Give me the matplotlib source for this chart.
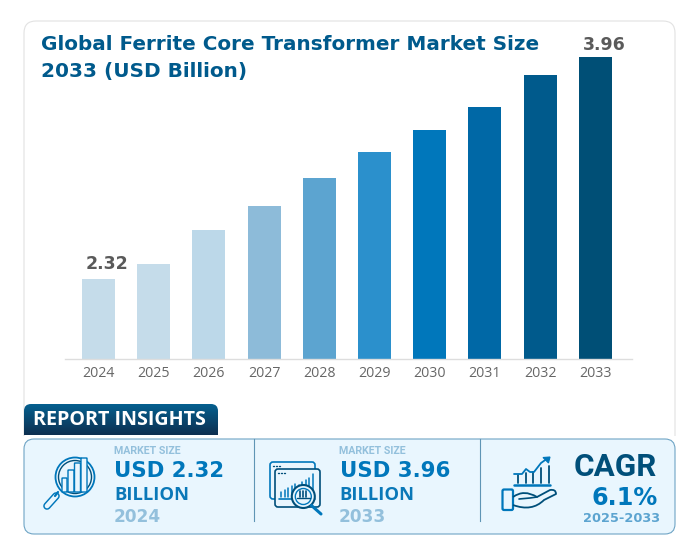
#!/usr/bin/env python3
"""Ferrite core transformer market size chart with report insights panel"""

import numpy as np
import matplotlib
matplotlib.use('Agg')
import matplotlib.pyplot as plt
from matplotlib.patches import FancyBboxPatch, Circle, Rectangle, PathPatch, Polygon
from matplotlib.path import Path

years = ['2024', '2025', '2026', '2027', '2028', '2029', '2030', '2031', '2032', '2033']
values = [2.32, 2.43, 2.68, 2.86, 3.07, 3.26, 3.42, 3.59, 3.83, 3.96]
bar_colors = ['#c5dcea', '#c5dcea', '#bcd8e9', '#8dbbd9', '#5ca4d0',
              '#2b90cc', '#0077bb', '#0068a6', '#005a8c', '#004f76']
labelled = {'2024': '2.32', '2033': '3.96'}

W, H = 697, 556
DARK = '#004f7a'
BLUE = '#0077bb'
LIGHT = '#93c0dc'
MID = '#5ca4d0'
PANEL = '#e9f6fe'

fig = plt.figure(figsize=(W / 100, H / 100), dpi=100, facecolor='white')

# overlay in pixel coordinates for the card and the panel
bg = fig.add_axes([0, 0, 1, 1], zorder=0)
bg.set_xlim(0, W)
bg.set_ylim(H, 0)
bg.axis('off')

# white card, bottom hidden behind the panel
bg.add_patch(FancyBboxPatch((24, 21), 651, 480, boxstyle='round,pad=0,rounding_size=12',
                            fc='white', ec='#e2e2e2', lw=0.8))
bg.add_patch(Rectangle((20, 436), 660, 120, fc='white', ec='none', zorder=1))

# tab with gradient
grad = np.linspace(0, 1, 64).reshape(-1, 1)
cmap = matplotlib.colors.LinearSegmentedColormap.from_list('tab', ['#05608f', '#0d2f50'])
im = bg.imshow(grad, extent=(24, 218, 435, 404), cmap=cmap, aspect='auto', zorder=2)
tab = FancyBboxPatch((24, 404), 194, 45, boxstyle='round,pad=0,rounding_size=7',
                     fc='none', ec='none', transform=bg.transData, zorder=2)
bg.add_patch(tab)
im.set_clip_path(tab)
bg.set_xlim(0, W)
bg.set_ylim(H, 0)
bg.text(33, 420, 'REPORT INSIGHTS', family='Open Sans', weight='bold', fontsize=14.25,
        color='white', va='center', ha='left', zorder=3)

# panel
bg.add_patch(FancyBboxPatch((24, 439), 651, 95, boxstyle='round,pad=0,rounding_size=10',
                            fc=PANEL, ec='#6fa5c5', lw=0.8, zorder=2))
for x in [253.5, 479.5]:
    bg.plot([x, x], [439, 521], color='#5f95b5', lw=0.8, zorder=3)


def txt(x, y, s, color, size, family='DejaVu Sans', ha='left'):
    bg.text(x, y, s, color=color, fontsize=size, family=family, weight='bold',
            ha=ha, va='center', zorder=4)


for x0, size_txt, yr in [(114, 'USD 2.32', '2024'), (339, 'USD 3.96', '2033')]:
    txt(x0, 451.5, 'MARKET SIZE', LIGHT, 7.7, family='Roboto')
    txt(x0 + 0.5, 471, size_txt, BLUE, 15.3)
    txt(x0, 495, 'BILLION', '#0a78b8', 13.2, family='Open Sans')
    txt(x0, 516.5, yr, LIGHT, 12.2)

txt(615, 467, 'CAGR', DARK, 22.6, family=['Liberation Sans Narrow', 'Roboto'], ha='center')
txt(657.5, 498, '6.1%', BLUE, 17.2, ha='right')
txt(660, 518.5, '2025-2033', MID, 9.3, ha='right')


def ln(xs, ys, color=BLUE, lw=1.2, z=4):
    bg.plot(xs, ys, color=color, lw=lw, zorder=z, solid_capstyle='round', solid_joinstyle='round')


def rrect(x, y, w, h, r, color=BLUE, lw=1.2, fc='none', z=4):
    bg.add_patch(FancyBboxPatch((x, y), w, h, boxstyle=f'round,pad=0,rounding_size={r}',
                                fc=fc, ec=color, lw=lw, zorder=z))


# icon 1: magnifier with bars
bg.add_patch(Circle((75, 477), 19.5, fc='none', ec=BLUE, lw=1.3, zorder=4))
bg.add_patch(Circle((75, 477), 16.5, fc='none', ec=DARK, lw=1.0, zorder=4))
for bx, by, bw in [(62, 478, 5), (68, 470, 6), (74.5, 463, 6), (81, 458, 6)]:
    rrect(bx, by, bw, 492 - by, 0.5, color=BLUE, lw=1.0, fc=PANEL, z=5)
ln([47, 56], [506, 496], color=BLUE, lw=5.5, z=5)
ln([47, 56], [506, 496], color=PANEL, lw=3.4, z=6)
ln([58, 55], [492, 496], color=BLUE, lw=1.6, z=6)

# icon 2: windows, bars and magnifier
rrect(270, 462, 45, 37, 3, color=BLUE)
rrect(275, 469, 45, 38, 3, color=DARK, fc=PANEL, z=4.5)
for dx in [273, 276, 279]:
    ln([dx, dx + 0.5], [465.5, 465.5], color=DARK, lw=1.0)
for dx in [278, 281, 284]:
    ln([dx, dx + 0.5], [472.5, 472.5], color=DARK, lw=1.0, z=5)
for bx, by in zip([281, 284.5, 288, 291.5, 295, 298.5, 302, 305.5, 309, 312.5],
                  [492, 490, 488, 486, 484, 485, 482, 480, 478, 474]):
    ln([bx, bx], [by, 497], color=BLUE, lw=1.1, z=5)
ln([279, 315], [499, 499], color=BLUE, lw=1.2, z=5)
bg.add_patch(Circle((303.3, 496.5), 11.5, fc=PANEL, ec=DARK, lw=1.5, zorder=6))
bg.add_patch(Circle((303.3, 496.5), 8, fc='none', ec=BLUE, lw=1.0, zorder=6))
for bx in [300, 303, 306]:
    ln([bx, bx], [491, 497], color=DARK, lw=1.2, z=7)
ln([297, 310], [498, 498], color=DARK, lw=1.0, z=7)
ln([311.5, 321], [505.5, 514], color=BLUE, lw=2.2, z=6)

# icon 3: hand with growing bars
for bx, by in zip([518, 526, 533, 541, 549], [475, 473, 472, 468, 466]):
    ln([bx, bx], [by, 483], color=DARK, lw=1.3)
ln([514, 550], [485, 485], color=BLUE, lw=1.8)
ln([514, 522, 526, 530, 534, 541, 548], [474, 474, 469, 472, 472, 463, 458], color=BLUE, lw=1.3)
bg.add_patch(Polygon([[550, 457], [543, 457.5], [548.5, 463]], closed=True, fc=BLUE, ec=BLUE, lw=0.8, zorder=4))
rrect(502.5, 489.5, 10.5, 20.5, 1.5, color=BLUE, lw=1.6)
hand = Path([(513, 497), (524, 489), (537, 497), (550, 490), (556, 489), (556, 494), (544, 500),
             (532, 512), (513, 505)],
            [Path.MOVETO, Path.CURVE3, Path.CURVE3, Path.LINETO, Path.CURVE3, Path.CURVE3, Path.LINETO,
             Path.CURVE3, Path.CURVE3])
bg.add_patch(PathPatch(hand, fc='none', ec=DARK, lw=1.3, zorder=4, joinstyle='round'))
ln([519, 530, 537], [499, 498, 497], color=DARK, lw=1.2)

# title
bg.text(41, 45, 'Global Ferrite Core Transformer Market Size', color='#005a8c', fontsize=14.45,
        weight='bold', family='DejaVu Sans', va='center', zorder=4)
bg.text(41, 71, '2033 (USD Billion)', color='#005a8c', fontsize=14.45,
        weight='bold', family='DejaVu Sans', va='center', zorder=4)

# bar chart axes, the value axis does not start at zero
left, right, top, bottom = 65, 632, 57, 359
ax = fig.add_axes([left / W, 1 - bottom / H, (right - left) / W, (bottom - top) / H], zorder=5)
ax.patch.set_alpha(0)
pos = np.arange(len(years))
ax.bar(pos, values, width=0.6, color=bar_colors)
ax.set_xlim(-0.607, 9.665)
ax.set_ylim(1.73, 3.96)
ax.set_xticks(pos)
ax.set_xticklabels(years, family='Open Sans', fontsize=10.2, color='#666666')
ax.set_yticks([])
ax.tick_params(axis='x', length=0, pad=5)
for side in ['top', 'left', 'right']:
    ax.spines[side].set_visible(False)
ax.spines['bottom'].set_color('#dddddd')
ax.spines['bottom'].set_linewidth(1.0)
for p, yr, v in zip(pos, years, values):
    if yr in labelled:
        dx, dy = (0.15, 4.5) if yr == '2024' else (0.17, 2.5)
        ax.annotate(labelled[yr], (p + dx, v), xytext=(0, dy), textcoords='offset points',
                    ha='center', va='bottom', fontsize=12.5, weight='bold', color='#5a5a5a',
                    family='DejaVu Sans', annotation_clip=False)

fig.savefig('out.png', dpi=100)
